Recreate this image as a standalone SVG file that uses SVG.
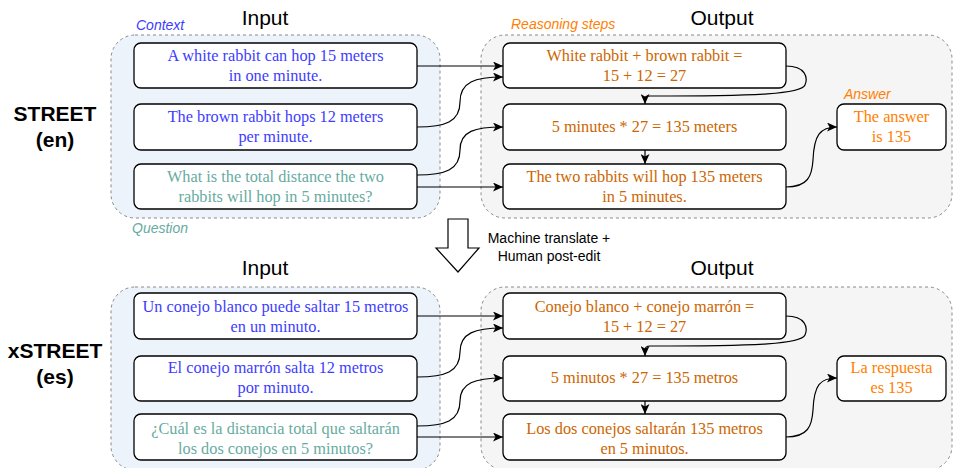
<svg xmlns="http://www.w3.org/2000/svg" width="953" height="468" viewBox="0 0 953 468">
<style>
.bg{fill:#fff}
.pin{fill:#ECF3FA;stroke:#8a8a8a;stroke-width:1;stroke-dasharray:3 3}
.pout{fill:#F5F5F5;stroke:#8a8a8a;stroke-width:1;stroke-dasharray:3 3}
.box{fill:#fff;stroke:#000;stroke-width:1.3}
.t{font-family:"Liberation Serif","Times New Roman",serif;font-size:16.3px;text-anchor:middle}
.ctx{fill:#3D3DFF}
.q{fill:#67AB9F}
.step{fill:#CC6600}
.ans{fill:#FF8000}
.h{font-family:"Liberation Sans",Arial,sans-serif;font-size:21px;text-anchor:middle;fill:#000}
.lbl{font-family:"Liberation Sans",Arial,sans-serif;font-size:14px;font-style:italic}
.side{font-family:"Liberation Sans",Arial,sans-serif;font-size:21px;font-weight:bold;text-anchor:middle;fill:#000}
.mt{font-family:"Liberation Sans",Arial,sans-serif;font-size:14px;text-anchor:middle;fill:#000}
.c{fill:none;stroke:#000;stroke-width:1.2;marker-end:url(#ah)}
</style>
<defs>
<marker id="ah" markerUnits="userSpaceOnUse" markerWidth="11" markerHeight="9" refX="10" refY="4.5" orient="auto">
<path d="M0,0 L10,4.5 L0,9 L2.5,4.5 Z" fill="#000"/>
</marker>
</defs>
<rect class="bg" x="0" y="0" width="953" height="468"/>

<g id="panels">
<rect class="pin" x="111" y="35" width="329" height="183" rx="24"/>
<rect class="pout" x="481" y="35" width="471" height="183" rx="24"/>
<rect class="pin" x="111" y="287" width="329" height="183" rx="24"/>
<rect class="pout" x="481" y="287" width="471" height="183" rx="24"/>
</g>

<g id="labels">
<text class="h" x="265" y="25">Input</text>
<text class="h" x="722" y="25">Output</text>
<text class="h" x="265" y="275">Input</text>
<text class="h" x="722" y="275">Output</text>
<text class="lbl ctx" x="136" y="30">Context</text>
<text class="lbl q" x="132" y="233">Question</text>
<text class="lbl ans" x="511" y="29">Reasoning steps</text>
<text class="lbl ans" x="844" y="99">Answer</text>
<text class="side" x="55" y="121">STREET</text>
<text class="side" x="55" y="147">(en)</text>
<text class="side" x="55" y="358">xSTREET</text>
<text class="side" x="55" y="384">(es)</text>
</g>

<g id="translate">
<path d="M448,219 L468,219 L468,248 L479,248 L458,272 L436,248 L448,248 Z" fill="#fff" stroke="#000" stroke-width="1.2"/>
<text class="mt" x="549" y="243">Machine translate +</text>
<text class="mt" x="549" y="261">Human post-edit</text>
</g>

<g id="en-ctx1"><rect class="box" x="134" y="43" width="283" height="45" rx="7"/>
<text class="t ctx" x="275.5" y="61">A white rabbit can hop 15 meters</text><text class="t ctx" x="275.5" y="81">in one minute.</text></g>
<g id="en-ctx2"><rect class="box" x="134" y="104" width="283" height="46" rx="7"/>
<text class="t ctx" x="275.5" y="122">The brown rabbit hops 12 meters</text><text class="t ctx" x="275.5" y="142">per minute.</text></g>
<g id="en-q"><rect class="box" x="134" y="164" width="283" height="45" rx="7"/>
<text class="t q" x="275.5" y="182">What is the total distance the two</text><text class="t q" x="275.5" y="202">rabbits will hop in 5 minutes?</text></g>

<g id="en-s1"><rect class="box" x="503" y="43" width="283" height="45" rx="7"/>
<text class="t step" x="644.5" y="61">White rabbit + brown rabbit =</text><text class="t step" x="644.5" y="81">15 + 12 = 27</text></g>
<g id="en-s2"><rect class="box" x="503" y="104" width="283" height="46" rx="7"/>
<text class="t step" x="644.5" y="132">5 minutes * 27 = 135 meters</text></g>
<g id="en-s3"><rect class="box" x="503" y="164" width="283" height="45" rx="7"/>
<text class="t step" x="644.5" y="182">The two rabbits will hop 135 meters</text><text class="t step" x="644.5" y="202">in 5 minutes.</text></g>
<g id="en-ans"><rect class="box" x="837" y="104" width="109" height="46" rx="7"/>
<text class="t ans" x="891.5" y="122">The answer</text><text class="t ans" x="891.5" y="142">is 135</text></g>

<g id="es-ctx1"><rect class="box" x="134" y="293" width="283" height="46" rx="7"/>
<text class="t ctx" x="275.5" y="312">Un conejo blanco puede saltar 15 metros</text><text class="t ctx" x="275.5" y="332">en un minuto.</text></g>
<g id="es-ctx2"><rect class="box" x="134" y="356" width="283" height="45" rx="7"/>
<text class="t ctx" x="275.5" y="373">El conejo marrón salta 12 metros</text><text class="t ctx" x="275.5" y="393">por minuto.</text></g>
<g id="es-q"><rect class="box" x="134" y="414" width="283" height="46" rx="7"/>
<text class="t q" x="275.5" y="434">¿Cuál es la distancia total que saltarán</text><text class="t q" x="275.5" y="454">los dos conejos en 5 minutos?</text></g>

<g id="es-s1"><rect class="box" x="503" y="293" width="283" height="46" rx="7"/>
<text class="t step" x="644.5" y="312">Conejo blanco + conejo marrón =</text><text class="t step" x="644.5" y="332">15 + 12 = 27</text></g>
<g id="es-s2"><rect class="box" x="503" y="356" width="283" height="45" rx="7"/>
<text class="t step" x="644.5" y="383">5 minutos * 27 = 135 metros</text></g>
<g id="es-s3"><rect class="box" x="503" y="414" width="283" height="46" rx="7"/>
<text class="t step" x="644.5" y="434">Los dos conejos saltarán 135 metros</text><text class="t step" x="644.5" y="454">en 5 minutos.</text></g>
<g id="es-ans"><rect class="box" x="837" y="356" width="109" height="45" rx="7"/>
<text class="t ans" x="891.5" y="373">La respuesta</text><text class="t ans" x="891.5" y="393">es 135</text></g>

<g id="connectors">
<path class="c" d="M417,66 L503,66"/>
<path class="c" d="M417,127 C445,127 460,122 460,102 C460,82 475,77 503,77"/>
<path class="c" d="M417,175 C445,175 460,170 460,150 C460,131 475,127 503,127"/>
<path class="c" d="M417,187 L503,187"/>
<path class="c" d="M786,66 C806,66 808,78 805,85 C801,94 760,96 650,96 Q645,96 645,100 L645,104"/>
<path class="c" d="M645,150 L645,164"/>
<path class="c" d="M786,187 C808,187 812,176 813,160 C814,135 820,127 837,127"/>
<path class="c" d="M417,316 L503,316"/>
<path class="c" d="M417,377 C445,377 460,372 460,352 C460,333 475,328 503,328"/>
<path class="c" d="M417,426 C445,426 460,421 460,401 C460,383 475,378 503,378"/>
<path class="c" d="M417,437 L503,437"/>
<path class="c" d="M786,316 C806,316 808,328 805,335 C801,344 760,346 650,346 Q645,346 645,350 L645,356"/>
<path class="c" d="M645,401 L645,414"/>
<path class="c" d="M786,437 C808,437 812,426 813,410 C814,385 820,378 837,378"/>
</g>
</svg>
